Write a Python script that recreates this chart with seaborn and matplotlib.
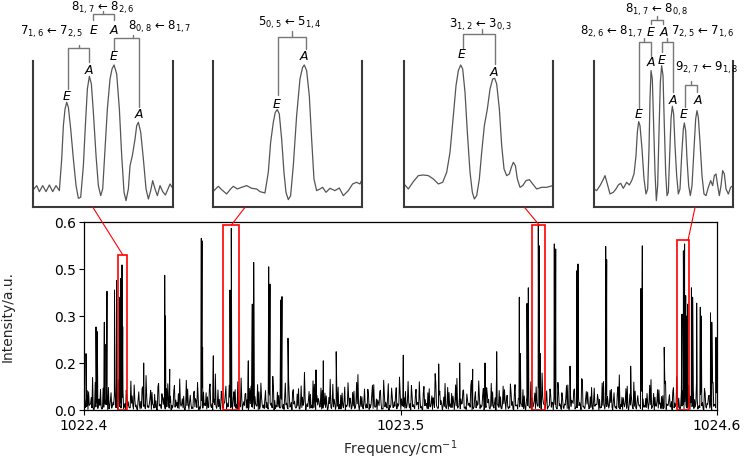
import numpy as np
import pandas as pd
import matplotlib
matplotlib.use("Agg")
import matplotlib.pyplot as plt
import seaborn as sns
from matplotlib.patches import Rectangle, ConnectionPatch

sns.set_theme(style="ticks")
plt.rcParams['font.family'] = ['DejaVu Sans']
plt.rcParams['mathtext.fontset'] = 'dejavusans'

# ---------------- main spectrum data ----------------
x_range = (1022.4, 1024.6)
x_ticks = [1022.4, 1023.5, 1024.6]
y_ticks = [0.0, 0.15, 0.30, 0.45, 0.60]
y_tick_labels = ["0.0", "0.2", "0.3", "0.5", "0.6"]

# baseline noise (thousandths of intensity): three interleaved samplings across the axis
noise_floor_milli = [
    4, 12, 2, 18, 7, 0, 10, 5, 15, 3, 9, 21, 1, 13, 6, 16, 8, 2, 11, 19,
    5, 0, 14, 7, 22, 3, 10, 1, 17, 6, 12, 4, 9, 20, 2, 15, 8, 0, 13, 5,
    18, 3, 11, 6, 1, 16, 9, 24, 4, 12, 7, 0, 14, 2, 19, 5, 10, 8, 1, 15,
    6, 21, 3, 9, 13, 0, 17, 5, 11, 2, 8, 23, 4, 14, 7, 1, 12, 18, 3, 10,
    0, 15, 6, 2, 20, 9, 4, 13, 1, 11, 16, 5, 8, 3, 22, 7, 0, 14, 10, 6,
    12, 2, 17, 4, 9, 1, 19, 6, 13, 3, 8, 25, 0, 11, 5, 15, 7, 2, 16, 9,
    3, 14, 8, 0, 21, 5, 10, 2, 12, 18, 4, 7, 1, 16, 9, 3, 13, 6, 20, 0,
    11, 4, 15, 7, 2, 18, 5, 9, 1, 14, 22, 3, 10, 6, 0, 17, 8, 12, 4, 19,
    2, 13, 6, 9, 24, 1, 11, 5, 16, 3, 7, 0, 14, 20, 4, 10, 2, 8, 15, 6,
    17, 0, 12, 5, 3, 19, 8, 1, 13, 10, 4, 21, 6, 2, 15, 9, 0, 11, 7, 18,
    5, 14, 1, 8, 23, 3, 12, 6, 0, 16, 9, 4, 20, 2, 11, 7, 15, 1, 13, 3,
    10, 19, 4, 0, 14, 7, 2, 17, 5, 12, 8, 1, 22, 6, 3, 15, 9, 0, 18, 4,
    13, 2, 9, 16, 5, 0, 11, 21, 3, 7, 14, 1, 10, 6, 19, 4, 8, 2, 12, 17,
    0, 9, 15, 3, 11, 6, 24, 1, 13, 4, 8, 18, 2, 10, 5, 0, 16, 7, 12, 3,
    20, 5, 1, 14, 8, 3, 17, 10, 0, 12, 6, 22, 4, 9, 2, 15, 11, 1, 7, 19,
    6, 0, 13, 4, 16, 9, 2, 11, 5, 21, 3, 8, 14, 1, 10, 18, 6, 0, 12, 7,
]
noise_spike_milli = [
    35, 12, 58, 20, 104, 9, 47, 28, 66, 5, 39, 17, 72, 30, 14, 50, 8, 97, 23, 41,
    11, 63, 26, 7, 45, 80, 16, 33, 4, 69, 21, 110, 13, 38, 56, 6, 29, 74, 18, 52,
    40, 9, 84, 24, 15, 61, 32, 7, 99, 19, 44, 12, 67, 27, 5, 53, 36, 88, 10, 31,
    57, 14, 42, 70, 8, 25, 115, 18, 34, 60, 6, 48, 22, 79, 11, 37, 65, 4, 29, 102,
    16, 51, 33, 9, 76, 20, 43, 13, 58, 86, 7, 35, 24, 64, 15, 107, 30, 10, 47, 71,
    5, 39, 22, 93, 12, 55, 28, 8, 68, 17, 41, 120, 14, 31, 50, 6, 82, 26, 37, 11,
    62, 19, 45, 7, 98, 23, 34, 13, 73, 4, 54, 29, 16, 87, 38, 9, 60, 21, 113, 15,
    42, 27, 6, 66, 18, 49, 81, 10, 32, 57, 3, 95, 25, 40, 14, 70, 8, 46, 20, 105,
    36, 11, 59, 28, 7, 78, 17, 43, 24, 90, 12, 53, 33, 5, 68, 22, 39, 116, 9, 48,
    30, 14, 85, 19, 56, 8, 44, 26, 101, 13, 35, 62, 6, 51, 21, 77, 10, 40, 29, 93,
    16, 47, 7, 71, 34, 12, 58, 24, 108, 9, 42, 19, 65, 31, 4, 83, 27, 50, 15, 37,
    61, 10, 45, 22, 96, 6, 38, 29, 74, 13, 52, 118, 17, 33, 8, 67, 25, 43, 11, 88,
    20, 55, 5, 40, 80, 14, 31, 63, 9, 46, 24, 100, 12, 36, 57, 7, 72, 28, 18, 49,
    34, 8, 91, 21, 43, 15, 66, 30, 6, 54, 112, 11, 39, 25, 76, 17, 48, 4, 60, 27,
    13, 70, 35, 9, 53, 23, 97, 16, 41, 28, 64, 5, 46, 84, 19, 32, 10, 58, 22, 106,
    38, 12, 62, 26, 7, 79, 44, 15, 33, 94, 11, 50, 24, 68, 6, 41, 30, 87, 18, 55,
]
noise_mid_milli = [
    8, 62, 15, 40, 5, 88, 22, 35, 10, 70, 18, 48, 4, 55, 25, 80, 12, 38, 6, 66,
    20, 45, 9, 92, 14, 33, 3, 58, 27, 74, 11, 42, 7, 63, 19, 50, 2, 85, 16, 37,
    10, 68, 24, 44, 6, 78, 13, 52, 21, 36, 5, 95, 17, 47, 9, 60, 28, 40, 3, 72,
    15, 55, 8, 83, 20, 34, 12, 64, 4, 49, 23, 76, 10, 41, 18, 58, 6, 90, 14, 38,
    26, 53, 7, 69, 11, 45, 19, 81, 3, 39, 16, 62, 9, 48, 22, 74, 5, 57, 13, 35,
    18, 86, 8, 43, 24, 65, 10, 51, 4, 77, 15, 36, 20, 59, 7, 93, 12, 46, 27, 70,
    6, 54, 17, 40, 9, 82, 21, 61, 3, 47, 14, 73, 11, 38, 25, 56, 5, 88, 16, 44,
    10, 67, 19, 50, 7, 79, 13, 35, 23, 63, 4, 52, 18, 84, 8, 42, 26, 71, 12, 57,
    15, 39, 6, 91, 20, 48, 9, 66, 24, 37, 3, 75, 14, 55, 11, 45, 22, 87, 5, 60,
    17, 41, 8, 72, 12, 53, 25, 80, 6, 46, 19, 64, 10, 34, 21, 94, 4, 58, 15, 43,
    9, 69, 23, 50, 7, 85, 13, 39, 18, 62, 5, 76, 27, 47, 11, 56, 3, 81, 16, 36,
    20, 65, 8, 44, 14, 90, 10, 54, 24, 73, 6, 40, 17, 61, 12, 49, 22, 83, 4, 57,
    13, 38, 19, 78, 7, 52, 26, 67, 9, 45, 15, 96, 5, 59, 21, 42, 11, 70, 18, 35,
    6, 86, 14, 48, 23, 63, 8, 55, 12, 74, 3, 41, 20, 68, 10, 51, 25, 89, 7, 46,
    16, 60, 9, 37, 22, 79, 5, 53, 13, 65, 19, 43, 4, 92, 15, 49, 27, 71, 11, 39,
    8, 58, 18, 84, 6, 45, 24, 66, 10, 36, 14, 77, 3, 54, 21, 47, 12, 88, 17, 62,
]

# line positions (cm^-1) and peak intensities
peak_freq = [
    1022.4070, 1022.4417, 1022.4462, 1022.4706, 1022.4765, 1022.4799, 1022.5060, 1022.5130,
    1022.5251, 1022.5279, 1022.5321, 1022.5345, 1022.6075, 1022.6805, 1022.6833, 1022.6979,
    1022.8077, 1022.8101, 1022.8122, 1022.8494, 1022.9074, 1022.9119, 1022.9710, 1022.9849,
    1022.9898, 1023.0419, 1023.0464, 1023.0836, 1023.0881, 1023.1090, 1023.2063, 1023.2317,
    1023.2765, 1023.5097, 1023.6328, 1023.7057, 1023.7509, 1023.7937, 1023.8343, 1023.9129,
    1023.9164, 1023.9396, 1023.9442, 1023.9789, 1023.9824, 1023.9859, 1024.0345, 1024.0394,
    1024.0891, 1024.1134, 1024.1169, 1024.2132, 1024.2166, 1024.3000, 1024.3358, 1024.3404,
    1024.4165, 1024.4783, 1024.4832, 1024.4874, 1024.4912, 1024.4947, 1024.4982, 1024.5111,
    1024.5153, 1024.5294, 1024.5419, 1024.5454, 1024.5774, 1024.5819, 1024.5965,
]
peak_int = [
    0.180, 0.265, 0.250, 0.280, 0.210, 0.379, 0.383, 0.413,
    0.360, 0.420, 0.463, 0.266, 0.150, 0.430, 0.300, 0.130,
    0.548, 0.540, 0.200, 0.173, 0.383, 0.580, 0.157, 0.338,
    0.471, 0.457, 0.402, 0.351, 0.362, 0.229, 0.128, 0.157,
    0.186, 0.175, 0.147, 0.150, 0.130, 0.150, 0.186, 0.360,
    0.180, 0.340, 0.390, 0.590, 0.524, 0.180, 0.530, 0.514,
    0.140, 0.445, 0.466, 0.522, 0.480, 0.140, 0.388, 0.524,
    0.200, 0.306, 0.508, 0.530, 0.365, 0.300, 0.338, 0.390,
    0.360, 0.341, 0.328, 0.300, 0.310, 0.280, 0.232,
]

# zoomed regions (freq lo, freq hi, box top)
box_lo = [1022.5192, 1022.8841, 1023.9570, 1024.4620]
box_hi = [1022.5505, 1022.9397, 1024.0033, 1024.5016]
box_top = [0.495, 0.590, 0.590, 0.543]

# ---------------- inset curves (arbitrary units) ----------------
in1_x = [2, 12, 20, 30, 40, 50, 60, 70, 80, 87, 92, 97, 102, 107, 114, 122, 130, 137, 144, 152,
         158, 164, 170, 176, 182, 190, 197, 204, 210, 217, 224, 232, 238, 244, 252, 260, 267, 274,
         280, 287, 292, 299, 307, 312, 317, 324, 332, 340, 347, 354, 360, 367, 374, 382, 390, 398,
         405, 412, 418]
in1_y = [53, 65, 47, 65, 47, 67, 47, 65, 50, 145, 245, 295, 315, 300, 235, 145, 65, 27, 30, 125,
         245, 355, 393, 370, 285, 155, 65, 35, 55, 175, 295, 385, 415, 427, 400, 295, 155, 45,
         20, 55, 125, 155, 205, 245, 255, 225, 145, 55, 25, 50, 80, 55, 35, 65, 47, 37,
         53, 70, 60]

in2_x = [2, 15, 25, 40, 52, 60, 72, 85, 100, 115, 130, 140, 155, 165, 172, 180, 186, 192, 198, 205,
         212, 218, 225, 232, 240, 250, 260, 268, 273, 280, 288, 295, 302, 310, 320, 328, 338, 350,
         365, 378, 390, 405, 418, 430, 440, 447]
in2_y = [50, 63, 53, 40, 55, 63, 55, 60, 65, 57, 55, 47, 43, 105, 195, 255, 285, 293, 280, 205,
         105, 45, 23, 35, 125, 275, 385, 420, 427, 410, 335, 205, 85, 50, 55, 60, 45, 57,
         50, 58, 35, 50, 70, 75, 70, 85]

in3_x = [0, 13, 28, 43, 58, 73, 88, 103, 116, 128, 138, 148, 156, 163, 170, 176, 183, 190, 198, 205,
         211, 218, 226, 233, 241, 250, 258, 266, 272, 278, 286, 293, 300, 308, 316, 322, 328, 334,
         340, 348, 356, 366, 376, 386, 398, 413, 428, 446]
in3_y = [70, 55, 77, 95, 97, 95, 85, 70, 75, 105, 165, 275, 365, 410, 427, 415, 345, 225, 105, 45,
         25, 35, 85, 165, 245, 295, 355, 385, 387, 370, 295, 185, 115, 95, 100, 120, 135, 125,
         85, 60, 65, 80, 83, 70, 55, 60, 60, 65]

in4_x = [0, 8, 18, 26, 33, 40, 48, 58, 66, 73, 80, 88, 98, 106, 113, 120, 126, 130, 134, 138,
         144, 150, 156, 161, 165, 168, 171, 175, 179, 183, 187, 191, 195, 199, 203, 207, 211, 215,
         219, 223, 227, 231, 235, 239, 243, 248, 253, 258, 263, 268, 271, 275, 279, 284, 289, 294,
         300, 305, 309, 313, 318, 324, 330, 336, 343, 350, 356, 361, 366, 371, 376, 381, 386, 391,
         396, 403, 410, 417]
in4_y = [55, 50, 65, 80, 95, 70, 40, 45, 55, 67, 72, 57, 75, 67, 80, 100, 155, 225, 257, 245,
         175, 85, 40, 55, 175, 325, 410, 385, 245, 105, 20, 65, 225, 375, 425, 395, 245, 105,
         35, 45, 155, 265, 303, 280, 185, 95, 40, 55, 155, 235, 253, 230, 145, 65, 35, 65,
         175, 265, 290, 270, 195, 95, 40, 35, 60, 80, 65, 95, 100, 65, 35, 65, 110, 100,
         55, 40, 60, 65]

inset_curves = [(in1_x, in1_y), (in2_x, in2_y), (in3_x, in3_y), (in4_x, in4_y)]
inset_widths = [420, 447, 446, 417]
inset_height = 438

# ---------------- figure ----------------
W, H = 744, 460
fig = plt.figure(figsize=(W / 100, H / 100), dpi=100)

ax = fig.add_axes([84 / W, 49 / H, 633 / W, 188 / H])
n_each = len(noise_floor_milli)
noise = np.empty(3 * n_each)
noise[0::3] = np.array(noise_floor_milli) / 1000.0
noise[1::3] = np.array(noise_spike_milli) / 1000.0
noise[2::3] = np.array(noise_mid_milli) / 1000.0
noise_x = np.linspace(x_range[0], x_range[1], len(noise))
spec = pd.DataFrame({
    "freq": np.concatenate([noise_x, peak_freq]),
    "inten": np.concatenate([noise, peak_int]),
}).sort_values("freq")
sns.lineplot(data=spec, x="freq", y="inten", sort=False, estimator=None,
             color="black", lw=0.7, ax=ax)
ax.set_xlim(*x_range)
ax.set_ylim(0, 0.6)
ax.set_xticks(x_ticks)
ax.set_xticklabels([f"{v:.1f}" for v in x_ticks])
ax.set_yticks(y_ticks)
ax.set_yticklabels(y_tick_labels)
ax.tick_params(labelsize=10, length=3.5, width=0.8, pad=2, colors="black")
for s in ax.spines.values():
    s.set_color("black")
    s.set_linewidth(0.9)
ax.set_xlabel(r"Frequency/cm$^{-1}$", fontsize=10)
ax.set_ylabel("Intensity/a.u.", fontsize=10)
ax.yaxis.set_label_coords(-0.109, 0.5)

for lo, hi, top in zip(box_lo, box_hi, box_top):
    ax.add_patch(Rectangle((lo, 0), hi - lo, top, fill=False, ec="red", lw=1.2, zorder=5))

# inset axes
inset_px = [(32.7, 140), (213.3, 149), (404, 148.7), (594, 139)]
anchor_box = [0.5, 0.5, 0.55, 0.95]  # fraction across box top where connector starts
anchor_inset = [0.43, 0.213, 0.81, 0.727]
insets = []
for i, ((l, w), (cx, cy)) in enumerate(zip(inset_px, inset_curves)):
    iax = fig.add_axes([l / W, (H - 208.3) / H, w / W, 146 / H])
    sns.lineplot(x=cx, y=cy, sort=False, estimator=None, color="#555555", lw=0.9, ax=iax)
    iax.set_xlim(0, inset_widths[i])
    iax.set_ylim(0, inset_height)
    iax.set_xticks([])
    iax.set_yticks([])
    iax.set_xlabel("")
    iax.set_ylabel("")
    iax.set_facecolor("none")
    iax.spines["top"].set_visible(False)
    for k in ["left", "right", "bottom"]:
        iax.spines[k].set_color("#3a3a3a")
        iax.spines[k].set_linewidth(1.5)
    insets.append(iax)
    bx = box_lo[i] + anchor_box[i] * (box_hi[i] - box_lo[i])
    cp = ConnectionPatch(xyA=(bx, box_top[i]), coordsA=ax.transData,
                         xyB=(anchor_inset[i], 0), coordsB=iax.transAxes,
                         color="red", lw=0.8)
    fig.add_artist(cp)

# annotation overlay (figure pixel coordinates)
ov = fig.add_axes([0, 0, 1, 1], facecolor="none")
ov.set_xlim(0, W)
ov.set_ylim(H, 0)
ov.axis("off")

labels = [
    ("$7_{1,6}$ ← $7_{2,5}$", 52, 32),
    ("$8_{1,7}$ ← $8_{2,6}$", 103, 8),
    ("$8_{0,8}$ ← $8_{1,7}$", 160, 27),
    ("$5_{0,5}$ ← $5_{1,4}$", 290, 23),
    ("$3_{1,2}$ ← $3_{0,3}$", 481, 25),
    ("$8_{1,7}$ ← $8_{0,8}$", 657, 10),
    ("$8_{2,6}$ ← $8_{1,7}$", 612, 32),
    ("$7_{2,5}$ ← $7_{1,6}$", 703, 32),
    ("$9_{2,7}$ ← $9_{1,8}$", 707, 68),
]
for t, x, y in labels:
    ov.text(x, y, t, ha="center", va="center", fontsize=8.5, color="black")

sym = [
    ("E", 66.7, 96), ("A", 89.3, 70), ("E", 93.3, 30), ("A", 114, 30), ("E", 114, 57), ("A", 139.3, 115),
    ("E", 276.7, 104), ("A", 304.3, 57),
    ("E", 461.7, 55), ("A", 494.3, 73),
    ("E", 651, 33), ("A", 664.3, 33), ("E", 638.7, 115), ("A", 650.7, 63),
    ("E", 661.7, 60), ("A", 673.3, 100), ("E", 684, 115), ("A", 698.3, 100),
]
for t, x, y in sym:
    ov.text(x, y, t, ha="center", va="center", fontsize=9, style="italic", color="black")

# brackets: x_left, x_right, y_bar, x_tick, y_tick_top, y_leg_left, y_leg_right
brackets = [
    (68, 89, 49, 78.5, 46, 90, 63),
    (92.7, 114, 15, 103.3, 12, 21, 21),
    (114.3, 139.3, 39.3, 133, 36, 51, 108),
    (277.7, 306, 38.3, 291.7, 32, 96, 50),
    (463.3, 495, 35, 481.7, 29.5, 49, 65),
    (650.7, 662.7, 20.7, 656.7, 17.3, 25, 25),
    (639.3, 651, 42.7, 644, 39.3, 109, 57),
    (661.7, 672.7, 42.7, 667.3, 39.3, 53, 93),
    (685, 697.3, 86, 690.7, 81.7, 108, 93),
]
for xl, xr, yb, xt, ytt, yll, ylr in brackets:
    ov.plot([xl, xl, xr, xr], [yll, yb, yb, ylr], color="#777777", lw=1.0)
    ov.plot([xt, xt], [yb, ytt], color="#777777", lw=1.0)

fig.savefig("out.png", dpi=100)
